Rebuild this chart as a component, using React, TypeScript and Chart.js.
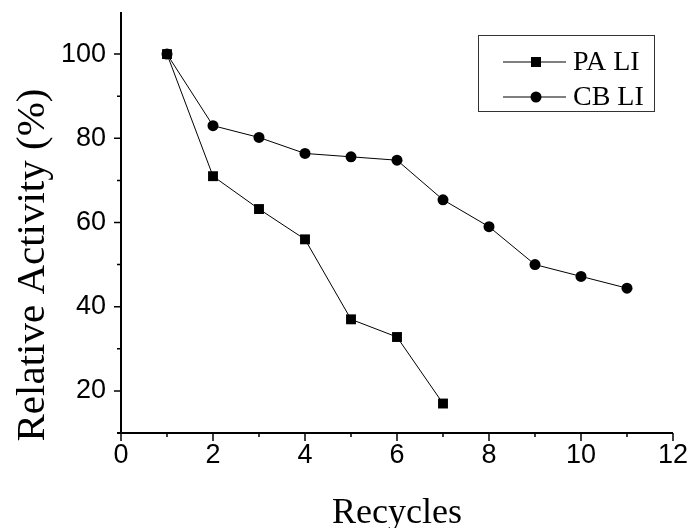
import React, { useEffect, useRef } from "react";
import { Chart, registerables } from "chart.js";
Chart.register(...registerables);

const recycles = [1, 2, 3, 4, 5, 6, 7, 8, 9, 10, 11];
const paLI = [100, 71, 63.2, 56, 37, 32.8, 17];
const cbLI = [100, 83, 80.2, 76.4, 75.6, 74.8, 65.4, 59, 50, 47.2, 44.4];
const xMajor = [0, 2, 4, 6, 8, 10, 12];
const xMinor = [1, 3, 5, 7, 9, 11];
const yMajor = [20, 40, 60, 80, 100];
const yMinor = [30, 50, 70, 90];
const seriesNames = ["PA LI", "CB LI"];
const xTitle = "Recycles";
const yTitle = "Relative Activity (%)";

const SERIF = "'Liberation Serif', 'Times New Roman', serif";
const SANS = "'Liberation Sans', Arial, sans-serif";

const decoPlugin = {
  id: "deco",
  afterDraw(chart: any) {
    const { ctx, chartArea } = chart;
    const xs = chart.scales.x;
    const ys = chart.scales.y;
    const { left, right, top, bottom } = chartArea;
    ctx.save();
    ctx.strokeStyle = "#000";
    ctx.fillStyle = "#000";
    ctx.lineWidth = 2;
    // axis lines
    ctx.beginPath();
    ctx.moveTo(left, top);
    ctx.lineTo(left, bottom);
    ctx.moveTo(left - 4, bottom);
    ctx.lineTo(right, bottom);
    ctx.stroke();
    // ticks
    ctx.lineWidth = 1.5;
    ctx.beginPath();
    xMajor.forEach((v) => {
      const p = xs.getPixelForValue(v);
      ctx.moveTo(p, bottom);
      ctx.lineTo(p, bottom + 8);
    });
    xMinor.forEach((v) => {
      const p = xs.getPixelForValue(v);
      ctx.moveTo(p, bottom);
      ctx.lineTo(p, bottom + 4);
    });
    yMajor.forEach((v) => {
      const p = ys.getPixelForValue(v);
      ctx.moveTo(left, p);
      ctx.lineTo(left - 7, p);
    });
    yMinor.forEach((v) => {
      const p = ys.getPixelForValue(v);
      ctx.moveTo(left, p);
      ctx.lineTo(left - 4, p);
    });
    ctx.stroke();
    // tick labels
    ctx.font = `27px ${SANS}`;
    ctx.textAlign = "center";
    ctx.textBaseline = "middle";
    xMajor.forEach((v) => {
      ctx.fillText(String(v), xs.getPixelForValue(v), bottom + 23);
    });
    ctx.textAlign = "right";
    yMajor.forEach((v) => {
      ctx.fillText(String(v), left - 15, ys.getPixelForValue(v));
    });
    // titles
    ctx.font = `36px ${SERIF}`;
    ctx.textAlign = "center";
    ctx.textBaseline = "alphabetic";
    ctx.fillText(xTitle, (left + right) / 2, 523);
    ctx.save();
    ctx.translate(44, 265);
    ctx.rotate(-Math.PI / 2);
    ctx.font = `41px ${SERIF}`;
    ctx.fillText(yTitle, 0, 0);
    ctx.restore();
    // legend
    ctx.lineWidth = 1;
    ctx.strokeStyle = "#333";
    ctx.strokeRect(478.5, 35.5, 176, 76);
    const rows = [62, 97];
    ctx.strokeStyle = "#000";
    ctx.font = `28px ${SERIF}`;
    ctx.textAlign = "left";
    ctx.textBaseline = "middle";
    rows.forEach((ry, i) => {
      ctx.beginPath();
      ctx.moveTo(503, ry);
      ctx.lineTo(566, ry);
      ctx.stroke();
      if (i === 0) {
        ctx.fillRect(531, ry - 5, 10, 10);
      } else {
        ctx.beginPath();
        ctx.arc(536, ry, 5.5, 0, Math.PI * 2);
        ctx.fill();
      }
      ctx.fillText(seriesNames[i], 573, ry + 1);
    });
    ctx.restore();
  },
};

export default function App() {
  const ref = useRef<HTMLCanvasElement>(null);
  useEffect(() => {
    if (!ref.current) return;
    const chart = new Chart(ref.current, {
      type: "line",
      data: {
        datasets: [
          {
            label: seriesNames[0],
            data: paLI.map((v, i) => ({ x: recycles[i], y: v })),
            borderColor: "#000",
            backgroundColor: "#000",
            borderWidth: 1,
            pointStyle: "rect",
            pointRadius: 7,
            pointBackgroundColor: "#000",
            pointBorderWidth: 0,
            tension: 0,
          },
          {
            label: seriesNames[1],
            data: cbLI.map((v, i) => ({ x: recycles[i], y: v })),
            borderColor: "#000",
            backgroundColor: "#000",
            borderWidth: 1,
            pointStyle: "circle",
            pointRadius: 5.5,
            pointBackgroundColor: "#000",
            pointBorderWidth: 0,
            tension: 0,
          },
        ],
      },
      options: {
        animation: false,
        responsive: true,
        maintainAspectRatio: false,
        layout: { padding: { left: 0, top: 12, right: 17, bottom: 0 } },
        plugins: { legend: { display: false }, tooltip: { enabled: false } },
        scales: {
          x: {
            type: "linear",
            min: 0,
            max: 12,
            grid: { display: false },
            border: { display: false },
            ticks: { display: false },
            afterFit: (s: any) => {
              s.height = 95;
            },
          },
          y: {
            type: "linear",
            min: 10,
            max: 110,
            grid: { display: false },
            border: { display: false },
            ticks: { display: false },
            afterFit: (s: any) => {
              s.width = 121;
            },
          },
        },
      },
      plugins: [decoPlugin],
    });
    return () => chart.destroy();
  }, []);
  return (
    <div style={{ position: "fixed", left: 0, top: 0, width: 690, height: 528, background: "#fff" }}>
      <canvas ref={ref} />
    </div>
  );
}
